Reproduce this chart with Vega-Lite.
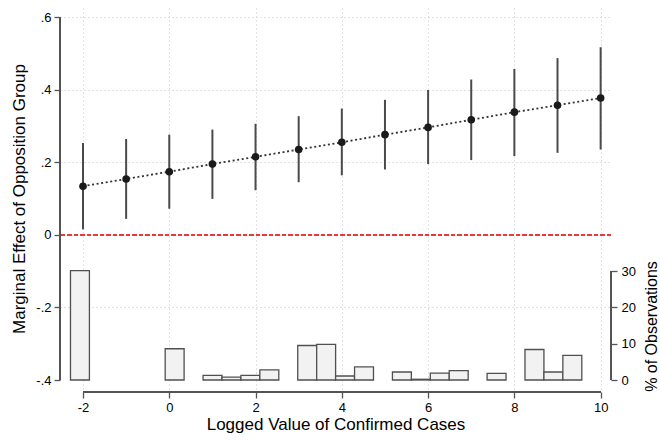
{
  "$schema": "https://vega.github.io/schema/vega-lite/v6.json",
  "width": 551,
  "height": 384,
  "autosize": "none",
  "padding": {"left": 60, "top": 8, "right": 49, "bottom": 48},
  "background": "white",
  "config": {
    "font": "Liberation Sans",
    "view": {"stroke": null},
    "axis": {
      "domain": false,
      "tickColor": "#555555",
      "tickWidth": 1.3,
      "tickSize": 6,
      "labelColor": "#000000",
      "labelFontSize": 13,
      "labelFont": "Liberation Sans",
      "titleFont": "Liberation Sans",
      "titleFontSize": 17,
      "titleFontWeight": "normal",
      "titleColor": "#000000",
      "gridColor": "#c4c4c4",
      "gridDash": [1, 3],
      "gridWidth": 1
    }
  },
  "datasets": {
    "est": [
      {"logcases": -2, "effect": 0.134, "lo": 0.015, "hi": 0.253},
      {"logcases": -1, "effect": 0.154, "lo": 0.044, "hi": 0.264},
      {"logcases": 0, "effect": 0.174, "lo": 0.072, "hi": 0.276},
      {"logcases": 1, "effect": 0.195, "lo": 0.099, "hi": 0.290},
      {"logcases": 2, "effect": 0.215, "lo": 0.123, "hi": 0.306},
      {"logcases": 3, "effect": 0.235, "lo": 0.145, "hi": 0.327},
      {"logcases": 4, "effect": 0.255, "lo": 0.164, "hi": 0.348},
      {"logcases": 5, "effect": 0.276, "lo": 0.180, "hi": 0.372},
      {"logcases": 6, "effect": 0.296, "lo": 0.195, "hi": 0.399},
      {"logcases": 7, "effect": 0.317, "lo": 0.206, "hi": 0.428},
      {"logcases": 8, "effect": 0.338, "lo": 0.217, "hi": 0.457},
      {"logcases": 9, "effect": 0.357, "lo": 0.226, "hi": 0.487},
      {"logcases": 10, "effect": 0.377, "lo": 0.235, "hi": 0.517}
    ],
    "hist": [
      {"bin_lo": -2.29, "bin_hi": -1.851, "pct": 30.1},
      {"bin_lo": -0.095, "bin_hi": 0.344, "pct": 8.6},
      {"bin_lo": 0.783, "bin_hi": 1.222, "pct": 1.3},
      {"bin_lo": 1.222, "bin_hi": 1.661, "pct": 0.8},
      {"bin_lo": 1.661, "bin_hi": 2.1, "pct": 1.3},
      {"bin_lo": 2.1, "bin_hi": 2.539, "pct": 2.8},
      {"bin_lo": 2.978, "bin_hi": 3.417, "pct": 9.5},
      {"bin_lo": 3.417, "bin_hi": 3.856, "pct": 9.8},
      {"bin_lo": 3.856, "bin_hi": 4.295, "pct": 1.1},
      {"bin_lo": 4.295, "bin_hi": 4.734, "pct": 3.6},
      {"bin_lo": 5.173, "bin_hi": 5.612, "pct": 2.2},
      {"bin_lo": 5.612, "bin_hi": 6.051, "pct": 0.2},
      {"bin_lo": 6.051, "bin_hi": 6.49, "pct": 1.9},
      {"bin_lo": 6.49, "bin_hi": 6.929, "pct": 2.6},
      {"bin_lo": 7.368, "bin_hi": 7.807, "pct": 1.8},
      {"bin_lo": 8.246, "bin_hi": 8.685, "pct": 8.4},
      {"bin_lo": 8.685, "bin_hi": 9.124, "pct": 2.2},
      {"bin_lo": 9.124, "bin_hi": 9.563, "pct": 6.8}
    ]
  },
  "layer": [
    {
      "data": {"name": "est"},
      "layer": [
        {
          "mark": {"type": "line", "color": "#333333", "strokeWidth": 1.8, "strokeDash": [2, 2.6]},
          "encoding": {
            "x": {
              "field": "logcases",
              "type": "quantitative",
              "scale": {"domain": [-2.533, 10.24], "nice": false, "zero": false},
              "axis": {
                "values": [-2, 0, 2, 4, 6, 8, 10],
                "grid": true,
                "labelExpr": "datum.value < 0 ? '-' + format(-datum.value, 'd') : format(datum.value, 'd')",
                "title": "Logged Value of Confirmed Cases",
                "labelPadding": 3,
                "titleAnchor": "middle",
                "titleBaseline": "alphabetic",
                "titleY": 37
              }
            },
            "y": {
              "field": "effect",
              "type": "quantitative",
              "scale": {"domain": [-0.433, 0.625], "nice": false, "zero": false},
              "axis": {
                "values": [-0.4, -0.2, 0, 0.2, 0.4, 0.6],
                "grid": true,
                "gridOpacity": {"condition": {"test": "datum.value < -0.3", "value": 0}, "value": 1},
                "labelExpr": "datum.value == 0 ? '0' : (datum.value < 0 ? '-' : '') + replace(format(abs(datum.value), '.1f'), '0.', '.')",
                "labelPadding": 3,
                "title": "Marginal Effect of Opposition Group",
                "titleAngle": -90,
                "titleAlign": "center",
                "titleBaseline": "alphabetic",
                "titleX": -36,
                "titleY": 190.5
              }
            }
          }
        },
        {
          "mark": {"type": "rule", "color": "#e8383d", "strokeWidth": 1.2, "strokeDash": [4, 2.5]},
          "encoding": {"y": {"datum": 0}}
        },
        {
          "mark": {"type": "rule", "color": "#4a4a4a", "strokeWidth": 2},
          "encoding": {
            "x": {"field": "logcases", "type": "quantitative"},
            "y": {"field": "lo", "type": "quantitative"},
            "y2": {"field": "hi"}
          }
        },
        {
          "mark": {"type": "point", "filled": true, "shape": "circle", "size": 58, "color": "#1a1a1a", "opacity": 1},
          "encoding": {
            "x": {"field": "logcases", "type": "quantitative"},
            "y": {"field": "effect", "type": "quantitative"}
          }
        },
        {
          "mark": {"type": "rule", "color": "#555555", "strokeWidth": 1.5},
          "encoding": {"x": {"datum": -2.533}, "y": {"datum": -0.4}, "y2": {"datum": 0.6}}
        },
        {
          "mark": {"type": "rule", "color": "#555555", "strokeWidth": 1.5},
          "encoding": {"y": {"datum": -0.433}, "x": {"datum": -2}, "x2": {"datum": 10}}
        }
      ]
    },
    {
      "data": {"name": "hist"},
      "layer": [
        {
          "mark": {"type": "rect", "fill": "#f2f2f2", "stroke": "#505050", "strokeWidth": 1.3},
          "encoding": {
            "x": {"field": "bin_lo", "type": "quantitative"},
            "x2": {"field": "bin_hi"},
            "y": {
              "field": "pct",
              "type": "quantitative",
              "scale": {"domain": [-3.3, 102.4], "nice": false, "zero": false},
              "axis": {
                "orient": "right",
                "values": [0, 10, 20, 30],
                "grid": false,
                "labelPadding": 4,
                "title": "% of Observations",
                "titleFontSize": 16,
                "titleAngle": -90,
                "titleAlign": "center",
                "titleBaseline": "alphabetic",
                "titleX": 45,
                "titleY": 318
              }
            },
            "y2": {"datum": 0}
          }
        },
        {
          "mark": {"type": "rule", "color": "#555555", "strokeWidth": 1.5},
          "encoding": {"x": {"datum": 10.24}, "y": {"datum": 0}, "y2": {"datum": 30}}
        }
      ]
    }
  ],
  "resolve": {"scale": {"y": "independent"}}
}
